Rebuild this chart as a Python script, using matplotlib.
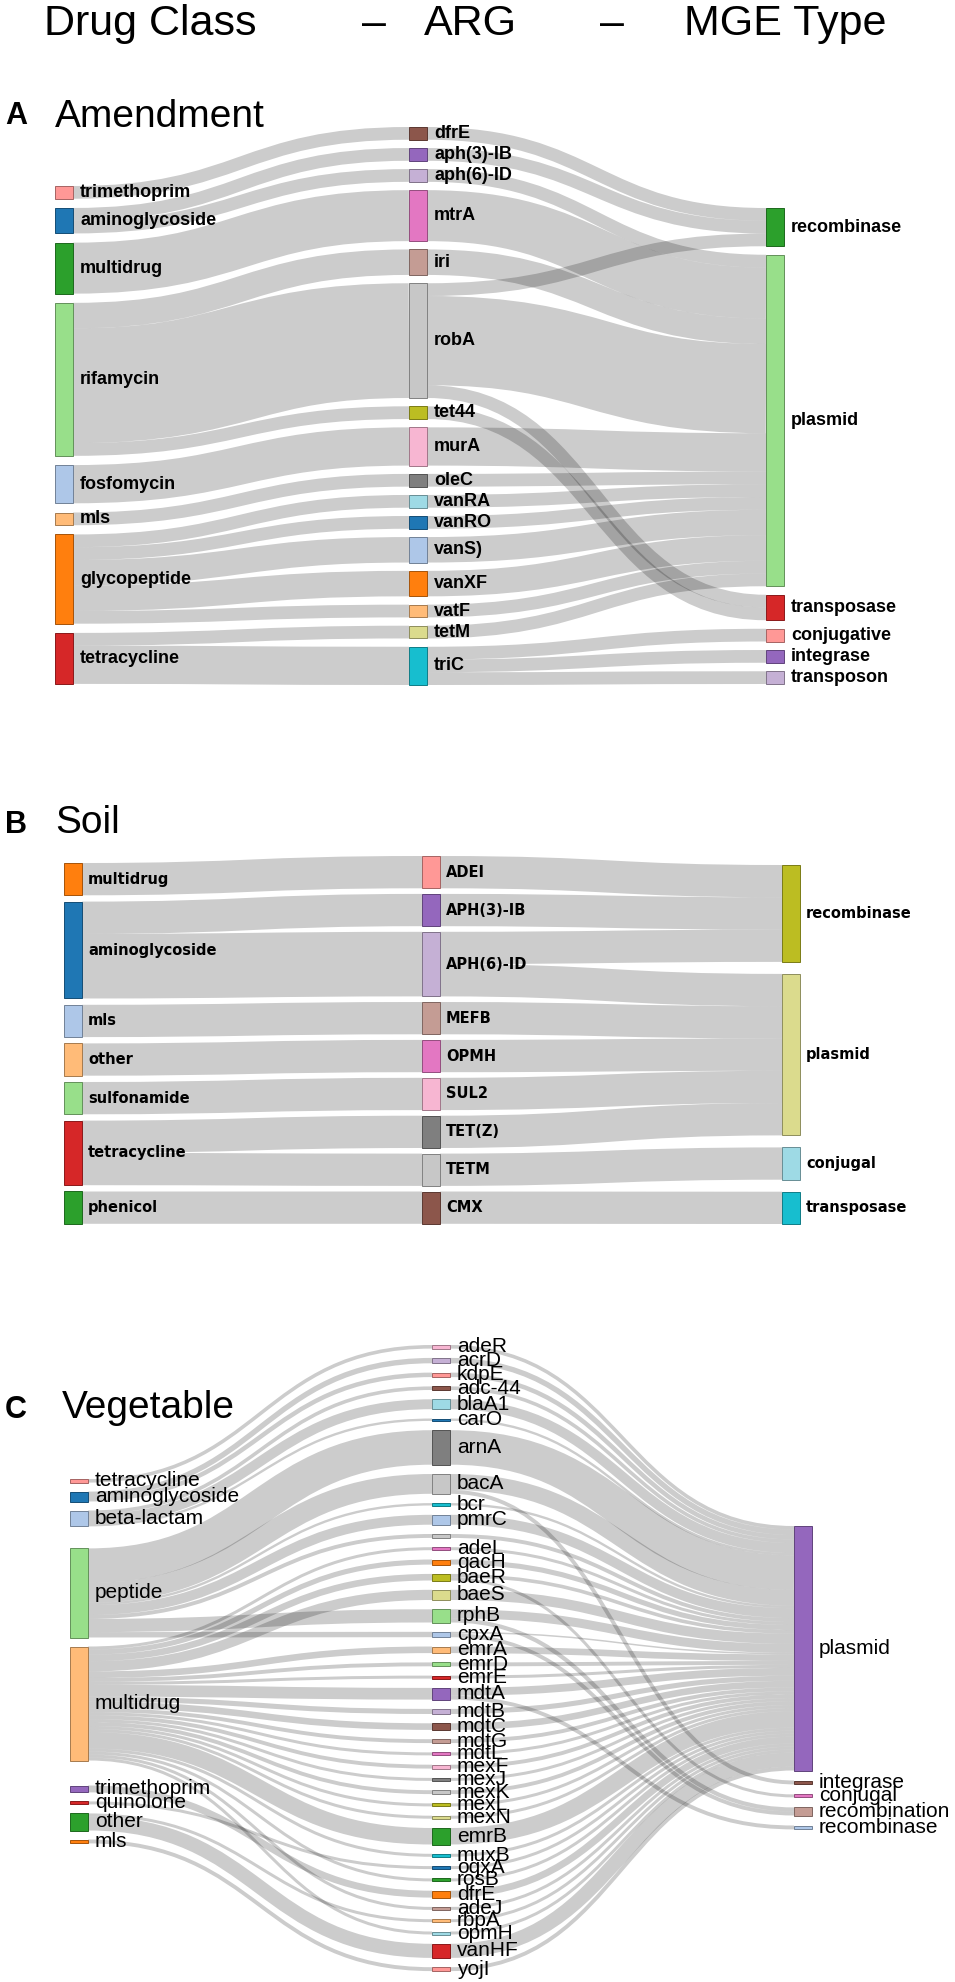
import matplotlib.pyplot as plt
import matplotlib.colors as mcolors
from matplotlib.path import Path
from matplotlib.patches import PathPatch, Rectangle

W, H, DPI = 955, 1982, 100

# ---------------- A  Amendment ----------------
a_drug = ['trimethoprim', 'aminoglycoside', 'multidrug', 'rifamycin',
          'fosfomycin', 'mls', 'glycopeptide', 'tetracycline']
a_arg = ['dfrE', 'aph(3)-IB', 'aph(6)-ID', 'mtrA', 'iri', 'robA', 'tet44', 'murA',
         'oleC', 'vanRA', 'vanRO', 'vanS)', 'vanXF', 'vatF', 'tetM', 'triC']
a_mge = ['recombinase', 'plasmid', 'transposase', 'conjugative', 'integrase', 'transposon']
a_drug_arg = [
    ('trimethoprim', 'dfrE', 1), ('aminoglycoside', 'aph(3)-IB', 1),
    ('aminoglycoside', 'aph(6)-ID', 1), ('multidrug', 'mtrA', 4),
    ('rifamycin', 'iri', 2), ('rifamycin', 'robA', 9), ('rifamycin', 'tet44', 1),
    ('fosfomycin', 'murA', 3), ('mls', 'oleC', 1),
    ('glycopeptide', 'vanRA', 1), ('glycopeptide', 'vanRO', 1), ('glycopeptide', 'vanS)', 2),
    ('glycopeptide', 'vanXF', 2), ('glycopeptide', 'vatF', 1),
    ('tetracycline', 'tetM', 1), ('tetracycline', 'triC', 3),
]
a_arg_mge = [
    ('dfrE', 'recombinase', 1), ('aph(3)-IB', 'recombinase', 1), ('aph(6)-ID', 'plasmid', 1),
    ('mtrA', 'plasmid', 4), ('iri', 'plasmid', 2), ('robA', 'recombinase', 1),
    ('robA', 'plasmid', 7), ('robA', 'transposase', 1), ('tet44', 'transposase', 1),
    ('murA', 'plasmid', 3), ('oleC', 'plasmid', 1), ('vanRA', 'plasmid', 1),
    ('vanRO', 'plasmid', 1), ('vanS)', 'plasmid', 2), ('vanXF', 'plasmid', 2),
    ('vatF', 'plasmid', 1), ('tetM', 'plasmid', 1), ('triC', 'conjugative', 1),
    ('triC', 'integrase', 1), ('triC', 'transposon', 1),
]
a_drug_colors = ['#ff9896', '#1f77b4', '#2ca02c', '#98df8a', '#aec7e8', '#ffbb78', '#ff7f0e', '#d62728']
a_arg_colors = ['#8c564b', '#9467bd', '#c5b0d5', '#e377c2', '#c49c94', '#c7c7c7', '#bcbd22', '#f7b6d2',
                '#7f7f7f', '#9edae5', '#1f77b4', '#aec7e8', '#ff7f0e', '#ffbb78', '#dbdb8d', '#17becf']
a_mge_colors = ['#2ca02c', '#98df8a', '#d62728', '#ff9896', '#9467bd', '#c5b0d5']

# ---------------- B  Soil ----------------
b_drug = ['multidrug', 'aminoglycoside', 'mls', 'other', 'sulfonamide', 'tetracycline', 'phenicol']
b_arg = ['ADEI', 'APH(3)-IB', 'APH(6)-ID', 'MEFB', 'OPMH', 'SUL2', 'TET(Z)', 'TETM', 'CMX']
b_mge = ['recombinase', 'plasmid', 'conjugal', 'transposase']
b_drug_arg = [
    ('multidrug', 'ADEI', 1), ('aminoglycoside', 'APH(3)-IB', 1), ('aminoglycoside', 'APH(6)-ID', 2),
    ('mls', 'MEFB', 1), ('other', 'OPMH', 1), ('sulfonamide', 'SUL2', 1),
    ('tetracycline', 'TET(Z)', 1), ('tetracycline', 'TETM', 1), ('phenicol', 'CMX', 1),
]
b_arg_mge = [
    ('ADEI', 'recombinase', 1), ('APH(3)-IB', 'recombinase', 1), ('APH(6)-ID', 'recombinase', 1),
    ('APH(6)-ID', 'plasmid', 1), ('MEFB', 'plasmid', 1), ('OPMH', 'plasmid', 1),
    ('SUL2', 'plasmid', 1), ('TET(Z)', 'plasmid', 1), ('TETM', 'conjugal', 1),
    ('CMX', 'transposase', 1),
]
b_drug_colors = ['#ff7f0e', '#1f77b4', '#aec7e8', '#ffbb78', '#98df8a', '#d62728', '#2ca02c']
b_arg_colors = ['#ff9896', '#9467bd', '#c5b0d5', '#c49c94', '#e377c2', '#f7b6d2', '#7f7f7f', '#c7c7c7', '#8c564b']
b_mge_colors = ['#bcbd22', '#dbdb8d', '#9edae5', '#17becf']

# ---------------- C  Vegetable ----------------
c_drug = ['tetracycline', 'aminoglycoside', 'beta-lactam', 'peptide', 'multidrug',
          'trimethoprim', 'quinolone', 'other', 'mls']
c_arg = ['adeR', 'acrD', 'kdpE', 'adc-44', 'blaA1', 'carO', 'arnA', 'bacA', 'bcr', 'pmrC', '',
         'adeL', 'qacH', 'baeR', 'baeS', 'rphB', 'cpxA', 'emrA', 'emrD', 'emrE', 'mdtA', 'mdtB',
         'mdtC', 'mdtG', 'mdtL', 'mexF', 'mexJ', 'mexK', 'mexL', 'mexN', 'emrB', 'muxB', 'oqxA',
         'rosB', 'dfrE', 'adeJ', 'rbpA', 'opmH', 'vanHF', 'yojI']
c_mge = ['plasmid', 'integrase', 'conjugal', 'recombination', 'recombinase']
c_drug_arg = [
    ('tetracycline', 'adeR', 1.2), ('aminoglycoside', 'acrD', 1.8), ('aminoglycoside', 'kdpE', 1.5),
    ('beta-lactam', 'adc-44', 1.2), ('beta-lactam', 'blaA1', 3.3), ('beta-lactam', 'carO', 0.8),
    ('peptide', 'arnA', 11.5), ('peptide', 'bacA', 6.6), ('peptide', 'bcr', 0.8),
    ('peptide', 'pmrC', 3.3), ('peptide', '', 1.3), ('peptide', 'rphB', 4.4), ('peptide', 'cpxA', 1.8),
    ('multidrug', 'adeL', 1.0), ('multidrug', 'qacH', 1.7), ('multidrug', 'baeR', 2.2),
    ('multidrug', 'baeS', 3.4), ('multidrug', 'emrA', 2.2), ('multidrug', 'emrD', 1.3),
    ('multidrug', 'emrE', 1.0), ('multidrug', 'mdtA', 3.9), ('multidrug', 'mdtB', 1.7),
    ('multidrug', 'mdtC', 2.2), ('multidrug', 'mdtG', 1.3), ('multidrug', 'mdtL', 1.0),
    ('multidrug', 'mexF', 1.3), ('multidrug', 'mexJ', 1.0), ('multidrug', 'mexK', 1.3),
    ('multidrug', 'mexL', 1.0), ('multidrug', 'mexN', 1.0), ('multidrug', 'emrB', 5.5),
    ('multidrug', 'muxB', 1.0), ('multidrug', 'rosB', 1.0), ('multidrug', 'adeJ', 1.0),
    ('multidrug', 'opmH', 1.0), ('trimethoprim', 'dfrE', 2.3), ('quinolone', 'oqxA', 1.0),
    ('other', 'vanHF', 4.7), ('other', 'rbpA', 1.0), ('mls', 'yojI', 1.3),
]
# ARG -> MGE: everything goes to plasmid except the few listed here
c_arg_mge_other = [
    ('bacA', 'integrase', 1.3), ('baeR', 'conjugal', 1.0),
    ('rphB', 'recombination', 1.4), ('cpxA', 'recombination', 1.3), ('mdtA', 'recombinase', 1.3),
]
c_drug_colors = ['#ff9896', '#1f77b4', '#aec7e8', '#98df8a', '#ffbb78', '#9467bd', '#d62728', '#2ca02c', '#ff7f0e']
c_arg_colors = ['#f7b6d2', '#c5b0d5', '#ff9896', '#8c564b', '#9edae5', '#1f77b4', '#7f7f7f', '#c7c7c7',
                '#17becf', '#aec7e8', '#c7c7c7', '#e377c2', '#ff7f0e', '#bcbd22', '#dbdb8d', '#98df8a',
                '#aec7e8', '#ffbb78', '#98df8a', '#d62728', '#9467bd', '#c5b0d5', '#8c564b', '#c49c94',
                '#e377c2', '#f7b6d2', '#7f7f7f', '#c7c7c7', '#bcbd22', '#dbdb8d', '#2ca02c', '#17becf',
                '#1f77b4', '#2ca02c', '#ff7f0e', '#c49c94', '#ffbb78', '#9edae5', '#d62728', '#ff9896']
c_mge_colors = ['#9467bd', '#8c564b', '#e377c2', '#c49c94', '#aec7e8']


def arg_totals(links):
    tot = {}
    for s, t, v in links:
        tot[t] = tot.get(t, 0) + v
    return tot


def c_arg_to_mge():
    tot = arg_totals(c_drug_arg)
    other = {}
    for s, t, v in c_arg_mge_other:
        other[s] = other.get(s, 0) + v
    links = []
    for a in c_arg:
        rest = tot[a] - other.get(a, 0)
        if rest > 0:
            links.append((a, 'plasmid', round(rest, 3)))
    return links + c_arg_mge_other


def draw_sankey(ax, columns, links, cfg):
    unit = cfg['unit']
    nw = 18
    inflow, outflow = {}, {}
    for s, t, v in links:
        outflow[s] = outflow.get(s, 0) + v
        inflow[t] = inflow.get(t, 0) + v

    # stack the nodes of each column
    pos, xs = {}, {}
    for ci, (names, colors) in enumerate(columns):
        y = cfg['tops'][ci]
        for n in names:
            y += cfg.get('pads', {}).get(n, 0)
            h = max(inflow.get(n, 0), outflow.get(n, 0)) * unit
            pos[n] = (y, y + h)
            xs[n] = cfg['xs'][ci]
            y += h + cfg['gaps'][ci]

    # link offsets at both ends
    s_off = {n: pos[n][0] for n in pos}
    t_off = dict(s_off)
    starts, ends = {}, {}
    for s, t, v in sorted(links, key=lambda l: (pos[l[0]][0], pos[l[1]][0])):
        starts[(s, t)] = s_off[s]
        s_off[s] += v * unit
    for s, t, v in sorted(links, key=lambda l: (pos[l[1]][0], pos[l[0]][0])):
        ends[(s, t)] = t_off[t]
        t_off[t] += v * unit

    for s, t, v in links:
        w = v * unit
        x0, x1 = xs[s] + nw, xs[t]
        y0 = starts[(s, t)] + w / 2
        y1 = ends[(s, t)] + w / 2
        xm = (x0 + x1) / 2
        path = Path([(x0, y0), (xm, y0), (xm, y1), (x1, y1)],
                    [Path.MOVETO, Path.CURVE4, Path.CURVE4, Path.CURVE4])
        ax.add_patch(PathPatch(path, fill=False, edgecolor=(0, 0, 0, 0.2),
                               lw=w * 72 / DPI, capstyle='butt', zorder=1))

    for names, colors in columns:
        for n, c in zip(names, colors):
            y0, y1 = pos[n]
            edge = tuple(ch * 0.65 for ch in mcolors.to_rgb(c))
            ax.add_patch(Rectangle((xs[n], y0), nw, y1 - y0, facecolor=c,
                                   edgecolor=edge, lw=0.7, zorder=3))
            if n:
                ax.text(xs[n] + nw + cfg['dx'], (y0 + y1) / 2, n, va='center', ha='left',
                        zorder=4, **cfg['font'])


fig = plt.figure(figsize=(W / DPI, H / DPI), dpi=DPI)
ax = fig.add_axes([0, 0, 1, 1])
ax.set_xlim(0, W)
ax.set_ylim(H, 0)
ax.axis('off')

narrow = ['Liberation Sans Narrow', 'Liberation Sans', 'DejaVu Sans']
helv = ['Liberation Sans', 'DejaVu Sans']

# header
for x, s in [(150, 'Drug Class'), (374, '–'), (470, 'ARG'), (612, '–'), (785, 'MGE Type')]:
    ax.text(x, 35, s, ha='center', va='baseline', fontsize=31, family=narrow)

# panel titles
ax.text(5, 124, 'A', fontsize=22, fontweight='bold', family=helv, va='baseline')
ax.text(55, 127, 'Amendment', fontsize=28, family=helv, va='baseline')
ax.text(5, 833, 'B', fontsize=22, fontweight='bold', family=narrow, va='baseline')
ax.text(55, 833, 'Soil', fontsize=28, family=narrow, va='baseline')
ax.text(5, 1418, 'C', fontsize=22, fontweight='bold', family=helv, va='baseline')
ax.text(62, 1418, 'Vegetable', fontsize=28, family=helv, va='baseline')

draw_sankey(ax,
            [(a_drug, a_drug_colors), (a_arg, a_arg_colors), (a_mge, a_mge_colors)],
            a_drug_arg + a_arg_mge,
            dict(unit=12.75, xs=[55, 409, 766], tops=[186, 127, 208], gaps=[9.2, 8.3, 8.5],
                 dx=7, font=dict(fontsize=13, fontweight='bold', family=helv)))

draw_sankey(ax,
            [(b_drug, b_drug_colors), (b_arg, b_arg_colors), (b_mge, b_mge_colors)],
            b_drug_arg + b_arg_mge,
            dict(unit=32.3, xs=[64, 422, 782], tops=[863, 856, 865], gaps=[6.3, 5.6, 12],
                 dx=6, font=dict(fontsize=10.5, fontweight='bold', family=['DejaVu Sans'])))

draw_sankey(ax,
            [(c_drug, c_drug_colors), (c_arg, c_arg_colors), (c_mge, c_mge_colors)],
            c_drug_arg + c_arg_to_mge(),
            dict(unit=3.0, xs=[70, 432, 794], tops=[1479, 1345, 1526], gaps=[9, 9.3, 10],
                 pads={'peptide': 13, 'trimethoprim': 16},
                 dx=7, font=dict(fontsize=15, family=helv)))

fig.savefig('out.png', dpi=DPI, facecolor='white')
